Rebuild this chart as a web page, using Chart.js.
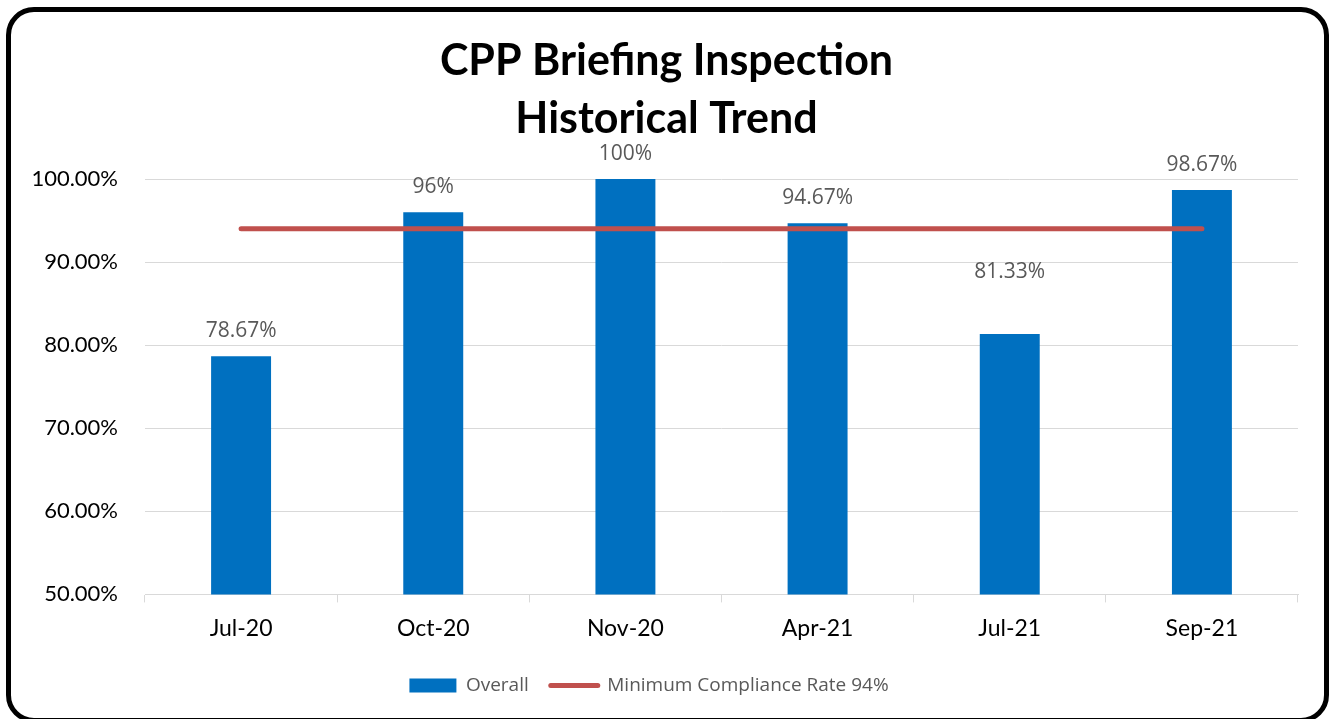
<!DOCTYPE html>
<html>
<head>
<meta charset="utf-8">
<script src="https://cdn.jsdelivr.net/npm/chart.js@4.4.0/dist/chart.umd.min.js"></script>
<style>
  html, body { margin: 0; padding: 0; background: #fff; }
  #wrap { position: relative; width: 1333px; height: 719px; overflow: hidden; }
  #c { position: absolute; left: 0; top: 0; }
  #frame {
    position: absolute; left: 6px; top: 7px; width: 1313px; height: 706px;
    border: 5px solid #000; border-radius: 28px; pointer-events: none;
  }
</style>
</head>
<body>
<div id="wrap">
  <canvas id="c" width="1333" height="719"></canvas>
  <div id="frame"></div>
</div>
<script>
const categories = ['Jul-20', 'Oct-20', 'Nov-20', 'Apr-21', 'Jul-21', 'Sep-21'];
const overall = [78.67, 96, 100, 94.67, 81.33, 98.67];
const overallLabels = ['78.67%', '96%', '100%', '94.67%', '81.33%', '98.67%'];
const minimumRate = [94, 94, 94, 94, 94, 94];
const yTicks = [50, 60, 70, 80, 90, 100];
const titleLines = ['CPP Briefing Inspection', 'Historical Trend'];

// extra lift for labels that were moved by hand in the original
const labelLift = [0, 0, 0, 0, 37, 0];

// title centred on the whole canvas, like the original
const bigTitle = {
  id: 'bigTitle',
  afterDraw(chart) {
    const ctx = chart.ctx;
    ctx.save();
    ctx.font = 'bold 43px Lato';
    ctx.fillStyle = '#000';
    ctx.textAlign = 'center';
    ctx.textBaseline = 'middle';
    titleLines.forEach((t, i) => ctx.fillText(t, chart.width / 2, 61 + i * 58));
    ctx.restore();
  }
};

const barLabels = {
  id: 'barLabels',
  afterDatasetsDraw(chart) {
    const ctx = chart.ctx;
    const meta = chart.getDatasetMeta(0);
    ctx.save();
    ctx.font = '21px "Open Sans"';
    ctx.fillStyle = '#595959';
    ctx.textAlign = 'center';
    ctx.textBaseline = 'middle';
    meta.data.forEach((bar, i) => {
      ctx.fillText(overallLabels[i], bar.x, bar.y - 25 - labelLift[i]);
    });
    ctx.restore();
  }
};

const ctx = document.getElementById('c').getContext('2d');
const chart = new Chart(ctx, {
  data: {
    labels: categories,
    datasets: [
      {
        type: 'bar',
        label: 'Overall',
        data: overall,
        backgroundColor: '#0070C0',
        borderWidth: 0,
        categoryPercentage: 1,
        barPercentage: 0.312,
        order: 2
      },
      {
        type: 'line',
        label: 'Minimum Compliance Rate 94%',
        data: minimumRate,
        borderColor: '#C0504D',
        backgroundColor: '#C0504D',
        borderWidth: 5,
        borderCapStyle: 'round',
        pointRadius: 0,
        order: 1
      }
    ]
  },
  options: {
    responsive: false,
    animation: false,
    layout: { padding: { left: 0, right: 35, top: 179, bottom: 14 } },
    plugins: {
      title: { display: false },
      legend: {
        position: 'bottom',
        labels: {
          color: '#595959',
          font: { family: 'Open Sans', size: 19 },
          usePointStyle: true,
          pointStyleWidth: 47,
          boxHeight: 14,
          padding: 22,
          generateLabels(chart) {
            const items = Chart.defaults.plugins.legend.labels.generateLabels(chart);
            items.sort((a, b) => a.datasetIndex - b.datasetIndex);
            items[0].pointStyle = 'rect';
            items[0].lineWidth = 0;
            items[0].fillStyle = '#0070C0';
            items[1].pointStyle = 'line';
            items[1].lineWidth = 5;
            items[1].lineCap = 'round';
            items[1].strokeStyle = '#C0504D';
            return items;
          }
        }
      },
      tooltip: { enabled: false }
    },
    scales: {
      x: {
        offset: true,
        grid: { drawOnChartArea: false, color: '#D9D9D9', tickLength: 8 },
        border: { display: true, color: '#D9D9D9' },
        ticks: { color: '#000', font: { family: 'Lato', size: 23 }, padding: 12 }
      },
      y: {
        min: 50,
        max: 100,
        afterFit(scale) { scale.width = 145; },
        afterBuildTicks(scale) { scale.ticks = yTicks.map(v => ({ value: v })); },
        grid: { color: '#D9D9D9', drawTicks: false },
        border: { display: false },
        ticks: {
          color: '#000',
          font: { family: 'Lato', size: 22 },
          padding: 27,
          callback: v => v.toFixed(2) + '%'
        }
      }
    }
  },
  plugins: [barLabels, bigTitle]
});
</script>
</body>
</html>
